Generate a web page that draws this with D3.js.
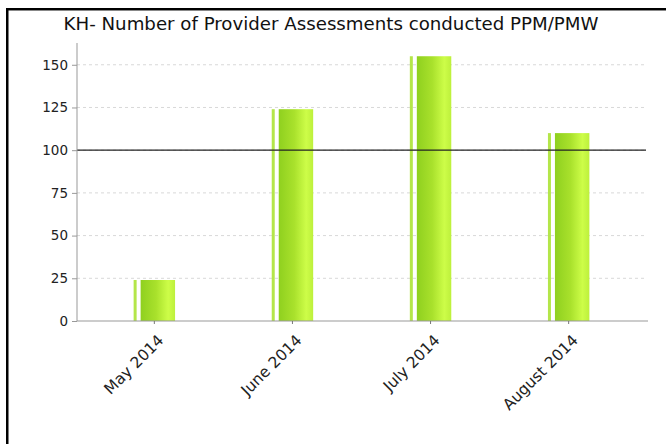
<!DOCTYPE html>
<html>
<head>
<meta charset="utf-8">
<script src="https://cdn.jsdelivr.net/npm/d3@7"></script>
<style>
  body { margin: 0; background: #fff; }
  text { font-family: "DejaVu Sans", sans-serif; }
</style>
</head>
<body>
<div id="chart"></div>
<script>
// Chart data
const categories = ["May 2014", "June 2014", "July 2014", "August 2014"];
const values = [24, 124, 155, 110];
const yTicks = [0, 25, 50, 75, 100, 125, 150];
const targetValue = 100;
const title = "KH- Number of Provider Assessments conducted PPM/PMW";

const width = 666;
const height = 444;
const margin = { top: 43, right: 20, bottom: 123, left: 77 };

const svg = d3.select("#chart")
    .append("svg")
    .attr("width", width)
    .attr("height", height);

// Bar gradient
const defs = svg.append("defs");
const grad = defs.append("linearGradient")
    .attr("id", "barGrad")
    .attr("x1", "0%").attr("x2", "100%")
    .attr("y1", "0%").attr("y2", "0%");
grad.append("stop").attr("offset", "0%").attr("stop-color", "#8fd01f");
grad.append("stop").attr("offset", "45%").attr("stop-color", "#a9e12c");
grad.append("stop").attr("offset", "80%").attr("stop-color", "#cdfd48");
grad.append("stop").attr("offset", "100%").attr("stop-color", "#bdf03c");

// Frame (left and top borders)
svg.append("rect").attr("x", 6).attr("y", 8).attr("width", width).attr("height", 2).attr("fill", "#000");
svg.append("rect").attr("x", 6).attr("y", 10).attr("width", width).attr("height", 1).attr("fill", "#888");
svg.append("rect").attr("x", 6).attr("y", 8).attr("width", 2.5).attr("height", height).attr("fill", "#000");

// Title
svg.append("text")
    .attr("x", 331)
    .attr("y", 30)
    .attr("text-anchor", "middle")
    .style("font-size", "18.2px")
    .style("fill", "#111")
    .text(title);

const x = d3.scaleBand()
    .domain(categories)
    .range([margin.left, width - margin.right])
    .paddingInner(0.7)
    .paddingOuter(0.41);

const y = d3.scaleLinear()
    .domain([0, d3.max(values) * 1.05])
    .range([height - margin.bottom, margin.top]);

// Grid lines
svg.append("g")
    .selectAll("line")
    .data(yTicks.filter(d => d > 0))
    .enter()
    .append("line")
    .attr("x1", margin.left)
    .attr("x2", width - margin.right)
    .attr("y1", d => y(d))
    .attr("y2", d => y(d))
    .style("stroke", "#d8d8d8")
    .style("stroke-width", 1)
    .style("stroke-dasharray", "3,3");

// Bars: thin highlight strip + main bar
const bars = svg.append("g")
    .selectAll("g")
    .data(values)
    .enter()
    .append("g");

bars.append("rect")
    .attr("x", (d, i) => x(categories[i]))
    .attr("y", d => y(d))
    .attr("width", 3)
    .attr("height", d => y(0) - y(d))
    .style("fill", "#b4e64a");

bars.append("rect")
    .attr("x", (d, i) => x(categories[i]) + 7)
    .attr("y", d => y(d))
    .attr("width", x.bandwidth() - 7)
    .attr("height", d => y(0) - y(d))
    .style("fill", "url(#barGrad)");

// Target line
svg.append("line")
    .attr("x1", margin.left)
    .attr("x2", width - margin.right)
    .attr("y1", y(targetValue))
    .attr("y2", y(targetValue))
    .style("stroke", "#222")
    .style("stroke-width", 1.3);

// Y axis
const yAxis = svg.append("g")
    .attr("transform", `translate(${margin.left},0)`)
    .call(d3.axisLeft(y).tickValues(yTicks).tickSize(5).tickPadding(4));
yAxis.select(".domain").style("stroke", "#999").attr("d", `M0,${margin.top}V${y(0)}`);
yAxis.selectAll(".tick line").style("stroke", "#999");
yAxis.selectAll("text").style("font-size", "13.5px").style("fill", "#222");

// X axis
const xAxis = svg.append("g")
    .attr("transform", `translate(0,${y(0)})`)
    .call(d3.axisBottom(x).tickSize(3).tickSizeOuter(0));
xAxis.select(".domain").style("stroke", "#999").attr("d", `M${margin.left},0H${width - margin.right + 2}`);
xAxis.selectAll(".tick line").style("stroke", "#777");
xAxis.selectAll("text")
    .style("font-size", "15.5px")
    .style("fill", "#222")
    .attr("text-anchor", "end")
    .attr("dx", 0)
    .attr("dy", 0)
    .attr("transform", "translate(6,16) rotate(-45)");
</script>
</body>
</html>
